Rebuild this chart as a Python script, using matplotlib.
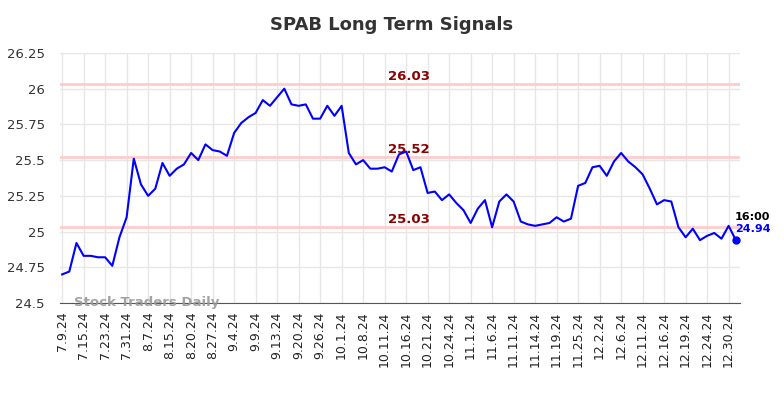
import matplotlib
matplotlib.use('Agg')
import matplotlib.pyplot as plt

# dates shown on the x axis (every 3rd trading day)
tick_labels = ['7.9.24', '7.15.24', '7.23.24', '7.31.24', '8.7.24', '8.15.24', '8.20.24', '8.27.24',
               '9.4.24', '9.9.24', '9.13.24', '9.20.24', '9.26.24', '10.1.24', '10.8.24', '10.11.24',
               '10.16.24', '10.21.24', '10.24.24', '11.1.24', '11.6.24', '11.11.24', '11.14.24', '11.19.24',
               '11.25.24', '12.2.24', '12.6.24', '12.11.24', '12.16.24', '12.19.24', '12.24.24', '12.30.24']

prices = [24.70, 24.72, 24.92, 24.83, 24.83, 24.82, 24.82, 24.76, 24.96, 25.10,
          25.51, 25.33, 25.25, 25.30, 25.48, 25.39, 25.44, 25.47, 25.55, 25.50,
          25.61, 25.57, 25.56, 25.53, 25.69, 25.76, 25.80, 25.83, 25.92, 25.88,
          25.94, 26.00, 25.89, 25.88, 25.89, 25.79, 25.79, 25.88, 25.81, 25.88,
          25.55, 25.47, 25.50, 25.44, 25.44, 25.45, 25.42, 25.54, 25.56, 25.43,
          25.45, 25.27, 25.28, 25.22, 25.26, 25.20, 25.15, 25.06, 25.16, 25.22,
          25.03, 25.21, 25.26, 25.21, 25.07, 25.05, 25.04, 25.05, 25.06, 25.10,
          25.07, 25.09, 25.32, 25.34, 25.45, 25.46, 25.39, 25.49, 25.55, 25.49,
          25.45, 25.40, 25.30, 25.19, 25.22, 25.21, 25.03, 24.96, 25.02, 24.94,
          24.97, 24.99, 24.95, 25.04, 24.94]

signal_levels = [26.03, 25.52, 25.03]
last_time = '16:00'

fig = plt.figure(figsize=(7.84, 3.98), dpi=100)
ax = fig.add_axes([0.0765, 0.2387, 0.8675, 0.6283])

x = list(range(len(prices)))

for lvl in signal_levels:
    ax.axhline(lvl, color='#ffcccc', linewidth=2, zorder=1)
    ax.text(48.4, lvl + 0.008, f'{lvl:.2f}', color='#8b0000', fontsize=9.5,
            fontweight='bold', ha='center', va='bottom')

ax.plot(x, prices, color='blue', linewidth=1.5, zorder=3)
ax.plot(x[-1], prices[-1], 'o', color='blue', markersize=5, zorder=4)

ax.text(x[-1] - 0.1, prices[-1] + 0.165, last_time, color='black', fontsize=8,
        fontweight='bold', ha='left', va='center')
ax.text(x[-1] - 0.1, prices[-1] + 0.075, f'{prices[-1]:.2f}', color='blue', fontsize=8,
        fontweight='bold', ha='left', va='center')

ax.text(1.7, 24.505, 'Stock Traders Daily', color='#999999', fontsize=9.5,
        fontweight='bold', ha='left', va='center', alpha=0.9)

ax.set_xlim(-0.3, 94.6)
ax.set_ylim(24.5, 26.25)
ax.set_xticks(list(range(0, 3 * len(tick_labels), 3)))
ax.set_xticklabels(tick_labels, rotation=90, fontsize=9, color='#222222')
yt = [24.5, 24.75, 25, 25.25, 25.5, 25.75, 26, 26.25]
ax.set_yticks(yt)
ax.set_yticklabels([f'{v:g}' for v in yt], fontsize=9.5, color='#333333')
ax.tick_params(axis='y', length=0, pad=11)
ax.tick_params(axis='x', length=0, pad=6)

ax.grid(True, color='#e6e6e6', linewidth=1)
ax.set_axisbelow(True)
for s in ['top', 'right', 'left']:
    ax.spines[s].set_visible(False)
ax.spines['bottom'].set_color('#555555')

fig.suptitle('SPAB Long Term Signals', fontsize=13, fontweight='bold', color='#333333', y=0.96)

fig.savefig('out.png', dpi=100)
